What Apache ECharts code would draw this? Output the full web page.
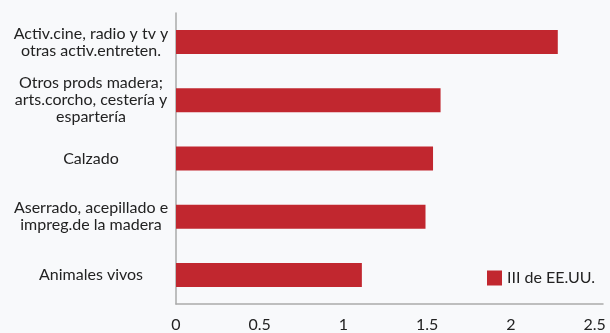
<!DOCTYPE html>
<html>
<head>
<meta charset="utf-8">
<script src="https://cdn.jsdelivr.net/npm/echarts@6/dist/echarts.min.js"></script>
<style>
  html, body { margin: 0; padding: 0; background: #f8f9fb; }
  #chart { width: 610px; height: 333px; }
</style>
</head>
<body>
<div id="chart"></div>
<script>
// Sectors, listed bottom to top as the category axis draws them
const categories = [
  'Animales vivos',
  'Aserrado, acepillado e\nimpreg.de la madera',
  'Calzado',
  'Otros prods madera;\narts.corcho, cestería y\nespartería',
  'Activ.cine, radio y tv y\notras activ.entreten.'
];
const seriesName = 'III de EE.UU.';
const values = [1.11, 1.49, 1.535, 1.58, 2.28];
const tickLabels = ['0', '0.5', '1', '1.5', '2', '2.5'];

const fontFamily = 'Lato, "Open Sans", sans-serif';
const chart = echarts.init(document.getElementById('chart'), null, { renderer: 'canvas' });

chart.setOption({
  backgroundColor: '#f8f9fb',
  animation: false,
  grid: { left: 176, top: 13, right: 7, bottom: 26, containLabel: false },
  legend: {
    data: [seriesName],
    left: 482,
    top: 265,
    itemWidth: 15,
    itemHeight: 15,
    itemGap: 6,
    icon: 'rect',
    textStyle: { fontFamily, fontSize: 16, color: '#222' }
  },
  xAxis: {
    type: 'value',
    min: 0,
    max: 2.55,
    interval: 0.5,
    axisLine: { show: true, lineStyle: { color: '#aaaaaa', width: 1.5 } },
    axisTick: { show: false },
    splitLine: { show: false },
    axisLabel: {
      showMaxLabel: false,
      margin: 13,
      fontFamily, fontSize: 16, color: '#222',
      formatter: (v) => {
        const i = Math.round(v / 0.5);
        return Math.abs(v - i * 0.5) < 1e-9 ? tickLabels[i] : '';
      }
    }
  },
  yAxis: {
    type: 'category',
    data: categories,
    axisLine: { show: true, lineStyle: { color: '#aaaaaa', width: 1.5 } },
    axisTick: { show: false },
    axisLabel: {
      align: 'center',
      margin: 85,
      fontFamily, fontSize: 16, color: '#222',
      lineHeight: 17
    }
  },
  series: [{
    name: seriesName,
    type: 'bar',
    data: values,
    barWidth: 24,
    itemStyle: { color: '#c1272f' }
  }]
});
</script>
</body>
</html>
